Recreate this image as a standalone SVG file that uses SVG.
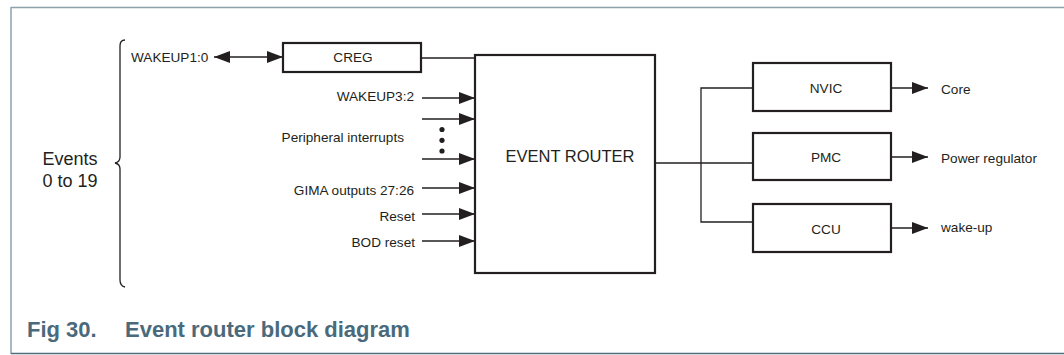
<svg xmlns="http://www.w3.org/2000/svg" width="1064" height="355" viewBox="0 0 1064 355">
<style>
.t{font-family:"Liberation Sans",Arial,sans-serif;font-size:13.6px;fill:#231f20}
.box{fill:#fff;stroke:#231f20;stroke-width:2.2}
.ln{fill:none;stroke:#231f20;stroke-width:1.3}
.cap{font-family:"Liberation Sans",Arial,sans-serif;font-size:22px;font-weight:bold;fill:#4a6a7b}
</style>
<defs>
<marker id="ah" viewBox="0 0 16 12" refX="16" refY="6" markerWidth="16" markerHeight="12" markerUnits="userSpaceOnUse" orient="auto-start-reverse">
<path d="M0,0 L16,6 L0,12 Z" fill="#231f20"/>
</marker>
</defs>
<rect width="1064" height="355" fill="#fff"/>
<g id="frame">
<line x1="11" y1="7.5" x2="1064" y2="7.5" stroke="#8ca2ab" stroke-width="1.5"/>
<line x1="11" y1="7" x2="11" y2="354" stroke="#8ca2ab" stroke-width="1.5"/>
<line x1="11" y1="353.5" x2="1064" y2="353.5" stroke="#4f6d7a" stroke-width="1.5"/>
</g>
<g id="caption">
<text class="cap" x="27" y="337">Fig 30.</text>
<text class="cap" x="125" y="337">Event router block diagram</text>
</g>
<g id="events">
<text class="t" x="70" y="165" text-anchor="middle" style="font-size:18px">Events</text>
<text class="t" x="70" y="187" text-anchor="middle" style="font-size:18px">0 to 19</text>
<path class="ln" d="M125,40 Q120,40 120,46 L120,157 Q120,162 115,163 Q120,164 120,169 L120,280 Q120,286 125,287"/>
</g>
<g id="connectors">
<line class="ln" x1="214" y1="57" x2="283" y2="57" marker-start="url(#ah)" marker-end="url(#ah)"/>
<line class="ln" x1="421" y1="58" x2="475" y2="58"/>
<line class="ln" x1="422" y1="98" x2="475" y2="98" marker-end="url(#ah)"/>
<line class="ln" x1="422" y1="119" x2="475" y2="119" marker-end="url(#ah)"/>
<line class="ln" x1="422" y1="159" x2="475" y2="159" marker-end="url(#ah)"/>
<line class="ln" x1="422" y1="188" x2="475" y2="188" marker-end="url(#ah)"/>
<line class="ln" x1="422" y1="214" x2="475" y2="214" marker-end="url(#ah)"/>
<line class="ln" x1="422" y1="241" x2="475" y2="241" marker-end="url(#ah)"/>
<line class="ln" x1="655" y1="163" x2="753" y2="163"/>
<path class="ln" d="M753,88 L701,88 L701,222 L753,222"/>
<line class="ln" x1="891" y1="88" x2="928" y2="88" marker-end="url(#ah)"/>
<line class="ln" x1="891" y1="157" x2="928" y2="157" marker-end="url(#ah)"/>
<line class="ln" x1="891" y1="228" x2="928" y2="228" marker-end="url(#ah)"/>
<circle cx="442" cy="129.5" r="2.6" fill="#231f20"/>
<circle cx="442" cy="140.3" r="2.6" fill="#231f20"/>
<circle cx="442" cy="151" r="2.6" fill="#231f20"/>
</g>
<g id="input-labels">
<text class="t" x="131" y="62">WAKEUP1:0</text>
<text class="t" x="414" y="101" text-anchor="end">WAKEUP3:2</text>
<text class="t" x="404" y="142" text-anchor="end">Peripheral interrupts</text>
<text class="t" x="414" y="195" text-anchor="end">GIMA outputs 27:26</text>
<text class="t" x="415" y="221" text-anchor="end">Reset</text>
<text class="t" x="415" y="247" text-anchor="end">BOD reset</text>
</g>
<g id="creg">
<rect class="box" x="283" y="43" width="138" height="29"/>
<text class="t" x="353" y="62" text-anchor="middle">CREG</text>
</g>
<g id="event-router">
<rect class="box" x="475" y="55" width="180" height="218"/>
<text class="t" x="570" y="162" text-anchor="middle" style="font-size:16.5px">EVENT ROUTER</text>
</g>
<g id="nvic">
<rect class="box" x="753" y="63" width="138" height="48"/>
<text class="t" x="826" y="93" text-anchor="middle">NVIC</text>
</g>
<g id="pmc">
<rect class="box" x="753" y="133" width="138" height="47"/>
<text class="t" x="826" y="162" text-anchor="middle">PMC</text>
</g>
<g id="ccu">
<rect class="box" x="753" y="204" width="138" height="48"/>
<text class="t" x="826" y="234" text-anchor="middle">CCU</text>
</g>
<g id="output-labels">
<text class="t" x="941" y="94">Core</text>
<text class="t" x="941" y="163">Power regulator</text>
<text class="t" x="941" y="232">wake-up</text>
</g>
</svg>
